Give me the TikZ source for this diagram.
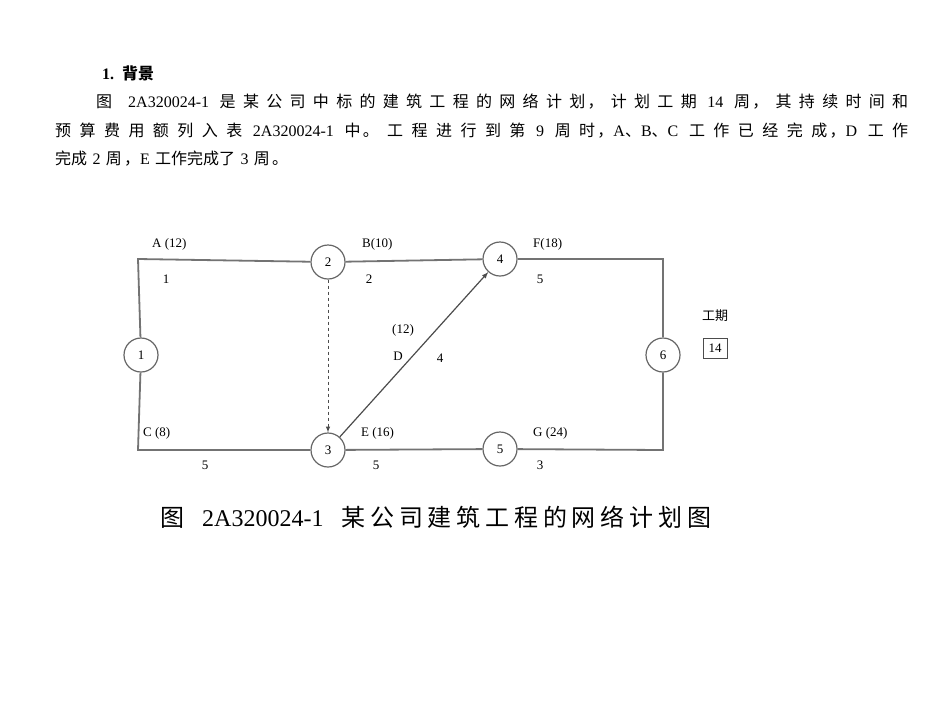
\documentclass[tikz,border=0pt]{standalone}
\usepackage{fontspec}
\setmainfont{Liberation Serif}
\newfontfamily\cjk{Noto Sans CJK SC}
\newfontfamily\cjks[LetterSpace=14]{Noto Sans CJK SC}
\newfontfamily\cjkc[LetterSpace=20]{Noto Sans CJK SC}
\XeTeXlinebreaklocale "zh"
\XeTeXlinebreakskip=0pt plus 1pt
\begin{document}
\begin{tikzpicture}[x=1pt,y=-1pt,
  ev/.style={circle,draw=black!60,line width=1.2pt,fill=white,minimum size=34pt,inner sep=0pt,font=\fontsize{13}{13}\selectfont},
  act/.style={draw=black!55,line width=1.8pt},
  lbl/.style={font=\fontsize{13}{13}\selectfont,inner sep=0pt},
  txt/.style={anchor=west,inner sep=0pt,font=\fontsize{16}{16}\selectfont}]
\useasboundingbox (0,0) rectangle (950,713);
\node[txt] (h) at (102,73) {\textbf{1.}\ \ {\cjk\bfseries 背景}};
\node[anchor=north west,inner sep=0pt,text width=853pt,font=\fontsize{16}{28.5}\selectfont] (p) at (55,94)
 {\parindent=41pt\parfillskip=0pt plus 1fil\rightskip=0pt\indent{\cjks 图}\ \ \ 2A320024-1\ \ {\cjks 是某公司中标的建筑工程的网络计划，计划工期}\ \ 14\ \ {\cjks 周，其持续时间和}\linebreak
 {\cjks 预算费用额列入表}\ \ 2A320024-1\ \ {\cjks 中。工程进行到第}\ \ 9\ \ {\cjks 周时，}A{\cjks 、}B{\cjks 、}C\ \ {\cjks 工作已经完成，}D\ \ {\cjks 工作}\linebreak
 {\cjks 完成} 2 {\cjks 周，}E {\cjks 工作完成了} 3 {\cjks 周。}\par};
\node[ev] (n1) at (141,355) {1};
\node[ev] (n2) at (328,262) {2};
\node[ev] (n3) at (328,450) {3};
\node[ev] (n4) at (500,259) {4};
\node[ev] (n5) at (500,449) {5};
\node[ev] (n6) at (663,355) {6};
\coordinate (tl) at (138,259);
\coordinate (bl) at (138,450);
\coordinate (tr) at (663,259);
\coordinate (br) at (663,450);
\draw[act] (n1) -- (tl) -- (n2);
\draw[act] (n2) -- (n4);
\draw[act] (n4) -- (tr) -- (n6);
\draw[act] (n1) -- (bl) -- (n3);
\draw[act] (n3) -- (n5);
\draw[act] (n5) -- (br) -- (n6);
\draw[black!70,line width=1pt,dashed,-latex] (n2) -- (n3);
\draw[black!70,line width=1.2pt,-latex] (n3) -- (n4);
\node[lbl,anchor=west] (la) at (152,244) {A (12)};
\node[lbl] (ca) at (166,279) {1};
\node[lbl,anchor=west] (lb) at (362,244) {B(10)};
\node[lbl] (cb) at (369,279) {2};
\node[lbl,anchor=west] (lf) at (533,244) {F(18)};
\node[lbl] (cf) at (540,279) {5};
\node[lbl] (ld1) at (403,330) {(12)};
\node[lbl] (ld2) at (398,356) {D};
\node[lbl] (cd) at (440,358) {4};
\node[lbl,anchor=west] (lc) at (143,433) {C (8)};
\node[lbl] (cc) at (205,465) {5};
\node[lbl,anchor=west] (le) at (361,433) {E (16)};
\node[lbl] (ce) at (376,465) {5};
\node[lbl,anchor=west] (lg) at (533,433) {G (24)};
\node[lbl] (cg) at (540,465) {3};
\node[lbl] (gq) at (715,316) {\cjk 工期};
\node[draw=black!70,line width=1pt,minimum width=24pt,minimum height=20pt,lbl] (d) at (715,348) {14};
\node[txt,font=\fontsize{24}{24}\selectfont] (cap) at (160,517) {{\cjkc 图}\ \ \ 2A320024-1\ \ \ {\cjkc 某公司建筑工程的网络计划图}};
\end{tikzpicture}
\end{document}
